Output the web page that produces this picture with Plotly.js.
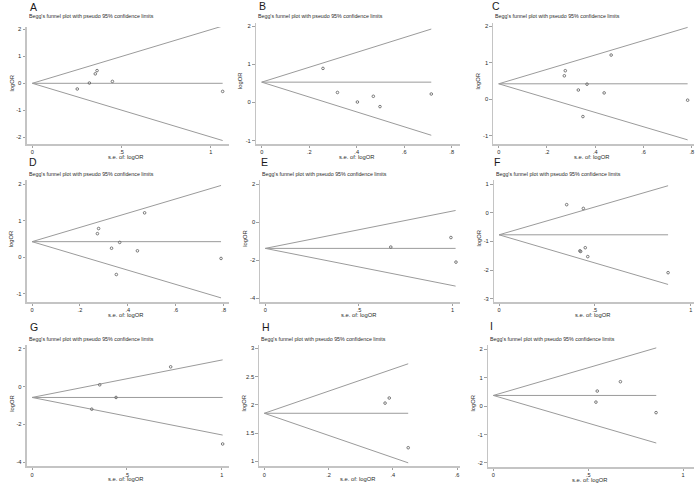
<!DOCTYPE html>
<html>
<head>
<meta charset="utf-8">
<script src="https://cdn.plot.ly/plotly-3.0.1.min.js"></script>
<style>html,body{margin:0;padding:0;background:#fff;}#chart{width:696px;height:485px;}</style>
</head>
<body>
<div id="chart"></div>
<script>
// ---------------- data ----------------
const panelLetters = ['A','B','C','D','E','F','G','H','I'];
const subtitle = "Begg's funnel plot with pseudo 95% confidence limits";
const xTitle = "s.e. of: logOR";
const yTitle = "logOR";

const seA  = [0.252, 0.320, 0.353, 0.363, 0.449, 1.067];
const logA = [-0.21, 0.01, 0.35, 0.47, 0.07, -0.30];
const seB  = [0.258, 0.319, 0.403, 0.470, 0.498, 0.714];
const logB = [0.89, 0.26, 0.01, 0.16, -0.11, 0.22];
const seC  = [0.272, 0.276, 0.330, 0.349, 0.366, 0.437, 0.466, 0.783];
const logC = [0.64, 0.78, 0.25, -0.48, 0.41, 0.17, 1.21, -0.03];
const seD  = [0.273, 0.278, 0.332, 0.352, 0.366, 0.440, 0.470, 0.789];
const logD = [0.64, 0.78, 0.24, -0.48, 0.40, 0.17, 1.21, -0.04];
const seE  = [0.670, 0.991, 1.018];
const logE = [-1.31, -0.81, -2.10];
const seF  = [0.353, 0.440, 0.422, 0.426, 0.450, 0.463, 0.882];
const logF = [0.28, 0.15, -1.33, -1.35, -1.22, -1.53, -2.09];
const seG  = [0.315, 0.357, 0.443, 0.731, 1.005];
const logG = [-1.20, 0.09, -0.58, 1.04, -3.04];
const seH  = [0.376, 0.389, 0.448];
const logH = [2.03, 2.12, 1.24];
const seI  = [0.541, 0.548, 0.670, 0.858];
const logI = [0.14, 0.53, 0.86, -0.23];

// pooled estimate, largest s.e. and the pseudo 95% limit end values per panel
const pooled   = [0.00, 0.53, 0.42, 0.42, -1.38, -0.77, -0.58, 1.85, 0.375];
const seMax    = [1.067, 0.714, 0.783, 0.789, 1.016, 0.882, 1.005, 0.448, 0.859];
const upperEnd = [2.12, 1.92, 1.97, 1.96, 0.61, 0.94, 1.41, 2.726, 2.05];
const lowerEnd = [-2.12, -0.86, -1.12, -1.12, -3.36, -2.50, -2.57, 0.973, -1.30];

// tick values / labels
const xTickVals = [
  [0, 0.5, 1], [0, 0.2, 0.4, 0.6, 0.8], [0, 0.2, 0.4, 0.6, 0.8],
  [0, 0.2, 0.4, 0.6, 0.8], [0, 0.5, 1], [0, 0.5, 1],
  [0, 0.5, 1], [0, 0.2, 0.4, 0.6], [0, 0.5, 1]
];
const xTickText = [
  ['0', '.5', '1'], ['0', '.2', '.4', '.6', '.8'], ['0', '.2', '.4', '.6', '.8'],
  ['0', '.2', '.4', '.6', '.8'], ['0', '.5', '1'], ['0', '.5', '1'],
  ['0', '.5', '1'], ['0', '.2', '.4', '.6'], ['0', '.5', '1']
];
const yTickVals = [
  [-2, -1, 0, 1, 2], [-1, 0, 1, 2], [-1, 0, 1, 2],
  [-1, 0, 1, 2], [-4, -2, 0, 2], [-3, -2, -1, 0, 1],
  [-4, -2, 0, 2], [1, 1.5, 2, 2.5, 3], [-2, -1, 0, 1, 2]
];
const yTickText = [
  ['-2', '-1', '0', '1', '2'], ['-1', '0', '1', '2'], ['-1', '0', '1', '2'],
  ['-1', '0', '1', '2'], ['-4', '-2', '0', '2'], ['-3', '-2', '-1', '0', '1'],
  ['-4', '-2', '0', '2'], ['1', '1.5', '2', '2.5', '3'], ['-2', '-1', '0', '1', '2']
];

const seAll  = [seA, seB, seC, seD, seE, seF, seG, seH, seI];
const logAll = [logA, logB, logC, logD, logE, logF, logG, logH, logI];

// ---------------- layout geometry (pixels) ----------------
const W = 696, H = 485;
// L,R: x-axis line extent; T,B: y-axis line extent;
// x0: pixel of se=0, sx: px per unit; yr: reference value at pixel yp, sy: px per unit
const geo = [
  {L:26.5, R:229, T:27,  B:144,   x0:32.3,  sx:178.4, yr:2, yp:29.3,  sy:27.0},
  {L:256,  R:460, T:23,  B:144,   x0:261.7, sx:237.5, yr:2, yp:26.0,  sy:38.2},
  {L:493.3,R:694, T:23.3,B:144,   x0:498.7, sx:241.3, yr:2, yp:26.3,  sy:36.4},
  {L:26.7, R:229, T:180, B:302,   x0:32.0,  sx:239.6, yr:2, yp:184.0, sy:36.5},
  {L:260.3,R:460, T:180, B:302,   x0:265.3, sx:187.3, yr:2, yp:184.0, sy:19.05},
  {L:494,  R:694, T:180, B:302,   x0:499.0, sx:191.7, yr:1, yp:184.0, sy:28.7},
  {L:26.7, R:229, T:345, B:466.3, x0:32.0,  sx:189.7, yr:2, yp:348.7, sy:18.9},
  {L:259.3,R:460, T:345, B:466.3, x0:264.3, sx:321.2, yr:3, yp:348.3, sy:56.5},
  {L:488,  R:694, T:345, B:467,   x0:493.3, sx:189.7, yr:2, yp:349.3, sy:28.4}
];
const letterPos = [
  [33.5, 6.8], [262, 6.3], [496.3, 6.3], [33, 162.3], [264, 161.5],
  [497.5, 161.5], [33.7, 327.3], [265.7, 327], [491.7, 326.3]
];
const subtitleY = [15.8, 15.8, 15.8, 174.2, 174.2, 174.2, 338.8, 338.8, 338.8];

const FONT = 'Liberation Sans, Arial, Helvetica, sans-serif';
const lineCol = '#9b9b9b';
const axisCol = '#c4c4c4';
const textCol = '#2a2a2a';

const traces = [];
const layout = {
  width: W, height: H,
  margin: {l: 0, r: 0, t: 0, b: 0},
  paper_bgcolor: '#ffffff', plot_bgcolor: '#ffffff',
  showlegend: false,
  font: {family: FONT, color: textCol, size: 6},
  annotations: []
};

for (let i = 0; i < 9; i++) {
  const g = geo[i];
  const sfx = i === 0 ? '' : String(i + 1);
  const xa = 'x' + sfx, ya = 'y' + sfx;

  // funnel: pooled line and pseudo 95% limits
  traces.push({x: [0, seMax[i]], y: [pooled[i], pooled[i]], xaxis: xa, yaxis: ya,
    mode: 'lines', line: {color: lineCol, width: 1}, hoverinfo: 'skip'});
  traces.push({x: [0, seMax[i]], y: [pooled[i], upperEnd[i]], xaxis: xa, yaxis: ya,
    mode: 'lines', line: {color: lineCol, width: 1}, hoverinfo: 'skip'});
  traces.push({x: [0, seMax[i]], y: [pooled[i], lowerEnd[i]], xaxis: xa, yaxis: ya,
    mode: 'lines', line: {color: lineCol, width: 1}, hoverinfo: 'skip'});
  // studies
  traces.push({x: seAll[i], y: logAll[i], xaxis: xa, yaxis: ya, mode: 'markers',
    marker: {symbol: 'circle-open', size: 2.6, color: '#6a6a6a', line: {width: 0.9, color: '#6a6a6a'}},
    hoverinfo: 'skip'});

  const xr = [(g.L - g.x0) / g.sx, (g.R - g.x0) / g.sx];
  const yr = [g.yr - (g.B - g.yp) / g.sy, g.yr + (g.yp - g.T) / g.sy];

  layout['xaxis' + sfx] = {
    domain: [g.L / W, g.R / W], range: xr, anchor: ya,
    showline: true, linecolor: axisCol, linewidth: 1.5,
    ticks: 'outside', ticklen: 2, tickwidth: 0.8, tickcolor: '#8a8a8a',
    tickvals: xTickVals[i], ticktext: xTickText[i],
    tickfont: {family: FONT, size: 5.6, color: textCol},
    showgrid: false, zeroline: false, fixedrange: true
  };
  layout['yaxis' + sfx] = {
    domain: [(H - g.B) / H, (H - g.T) / H], range: yr, anchor: xa,
    showline: true, linecolor: axisCol, linewidth: 1.5,
    ticks: 'outside', ticklen: 2.5, tickwidth: 0.8, tickcolor: '#8a8a8a',
    tickvals: yTickVals[i], ticktext: yTickText[i],
    tickfont: {family: FONT, size: 5.8, color: textCol},
    showgrid: false, zeroline: false, fixedrange: true
  };

  // panel letter
  layout.annotations.push({text: panelLetters[i], xref: 'paper', yref: 'paper',
    x: letterPos[i][0] / W, y: (H - letterPos[i][1]) / H, xanchor: 'center', yanchor: 'middle',
    showarrow: false, font: {family: FONT, size: 10.5, color: '#1a1a1a'}});
  // subtitle
  layout.annotations.push({text: subtitle, xref: 'paper', yref: 'paper',
    x: g.L / W, y: (H - subtitleY[i]) / H, xanchor: 'left', yanchor: 'middle',
    showarrow: false, font: {family: FONT, size: 5.3, color: textCol}});
  // x title
  layout.annotations.push({text: xTitle, xref: 'paper', yref: 'paper',
    x: ((g.L + g.R) / 2 - 2) / W, y: (H - (g.B + 13)) / H, xanchor: 'center', yanchor: 'middle',
    showarrow: false, font: {family: FONT, size: 5.8, color: textCol}});
  // y title
  layout.annotations.push({text: yTitle, xref: 'paper', yref: 'paper', textangle: -90,
    x: (g.L - 15.5) / W, y: (H - ((g.T + g.B) / 2 - 2)) / H, xanchor: 'center', yanchor: 'middle',
    showarrow: false, font: {family: FONT, size: 5.8, color: textCol}});
}

Plotly.newPlot('chart', traces, layout, {staticPlot: true, displayModeBar: false});
</script>
</body>
</html>
